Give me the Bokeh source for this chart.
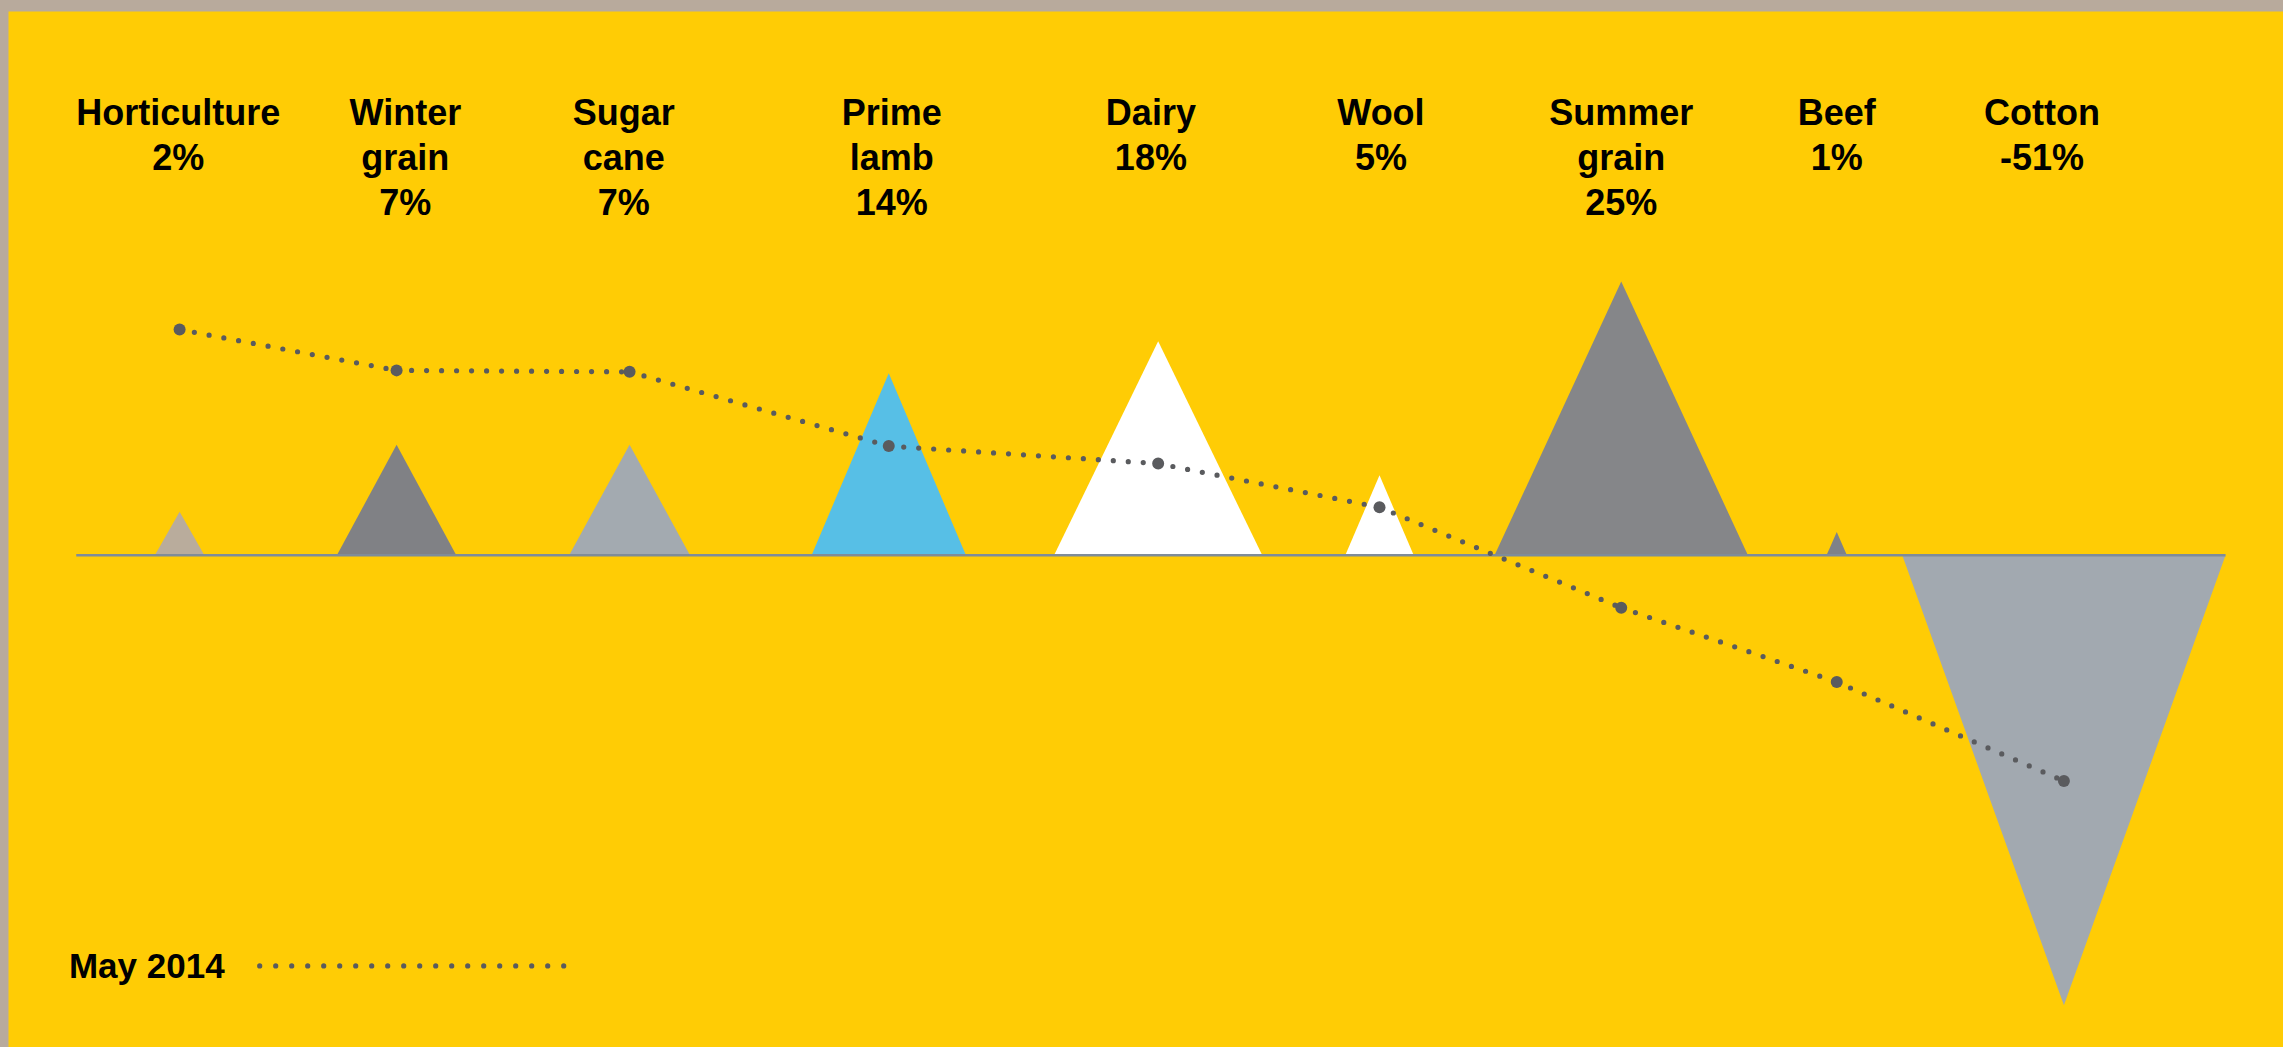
from bokeh.plotting import figure
from bokeh.models import Range1d
from bokeh.core.properties import value
from bokeh.embed import file_html
from bokeh.resources import INLINE

# ---- data (units = relative scale, 0 = baseline) ----
names = ["Horticulture", "Winter\ngrain", "Sugar\ncane", "Prime\nlamb", "Dairy",
         "Wool", "Summer\ngrain", "Beef", "Cotton"]
changes = [2, 7, 7, 14, 18, 5, 25, 1, -51]
tri_height = [30, 76, 76, 125, 147, 55, 188, 16, -309]
tri_width = [34, 82, 83, 106, 143, 47, 174, 14, 222]
may2014 = [155, 127, 126, 75, 63, 33, -36, -87, -155]
colors = ["#B9AC9C", "#808185", "#A3AAB0", "#57BFE6", "#FFFFFF",
          "#FFFFFF", "#858689", "#7F8288", "#A2A9B0"]

# ---- layout (category positions) ----
centers = [123, 272, 432, 610, 795, 947, 1113, 1261, 1417]
label_x = [122, 278, 428, 612, 790, 948, 1113, 1261, 1402]

YELLOW = "#FFCC05"
TAN = "#B8AA9C"
DOT = "#5A5B5E"
FONT = "Liberation Sans"

p = figure(width=2283, height=1047, output_backend="svg", toolbar_location=None,
           x_range=Range1d(5.49, 1567.8), y_range=Range1d(-338, 373.45),
           min_border=0, min_border_left=8, min_border_top=11,
           background_fill_color=YELLOW, border_fill_color=TAN)
p.axis.visible = False
p.grid.visible = False
p.outline_line_color = None

# triangles
xs, ys = [], []
for c, w, h in zip(centers, tri_width, tri_height):
    xs.append([c - w / 2, c, c + w / 2])
    ys.append([0, h, 0])
p.patches(xs, ys, fill_color=colors, line_color=None)

# baseline
p.segment(x0=[52], y0=[0], x1=[1528], y1=[0], line_color="#7F8C99", line_width=2.5)

# May 2014 dotted line (each segment starts its dots at a data point)
seg_x = [[centers[i], centers[i + 1]] for i in range(len(centers) - 1)]
seg_y = [[may2014[i], may2014[i + 1]] for i in range(len(may2014) - 1)]
p.multi_line(seg_x, seg_y, line_color=DOT, line_width=5.2, line_dash="0 15",
             line_cap="round")
p.scatter(centers, may2014, size=12, fill_color=DOT, line_color=None)

# category labels
lx, ly, lt = [], [], []
for x, n, v in zip(label_x, names, changes):
    lines = n.split("\n") + [f"{v}%"]
    for i, t in enumerate(lines):
        lx.append(x)
        ly.append(304 - 31 * i)
        lt.append(t)
p.text(x=lx, y=ly, text=lt, text_font=value(FONT), text_font_style="bold",
       text_font_size="36px", text_align="center", text_baseline="middle",
       text_color="#000000")

# legend
p.text(x=[47], y=[-282], text=["May 2014"], text_font=value(FONT),
       text_font_style="bold", text_font_size="35px", text_align="left",
       text_baseline="middle", text_color="#000000")
p.line([178, 397], [-282, -282], line_color=DOT, line_width=5.2, line_dash="0 16",
       line_cap="round")

html = file_html(p, INLINE)
html = html.replace("<head>", "<head><style>html,body{background:#B8AA9C;overflow:hidden;}</style>", 1)
open("out.html", "w").write(html)
